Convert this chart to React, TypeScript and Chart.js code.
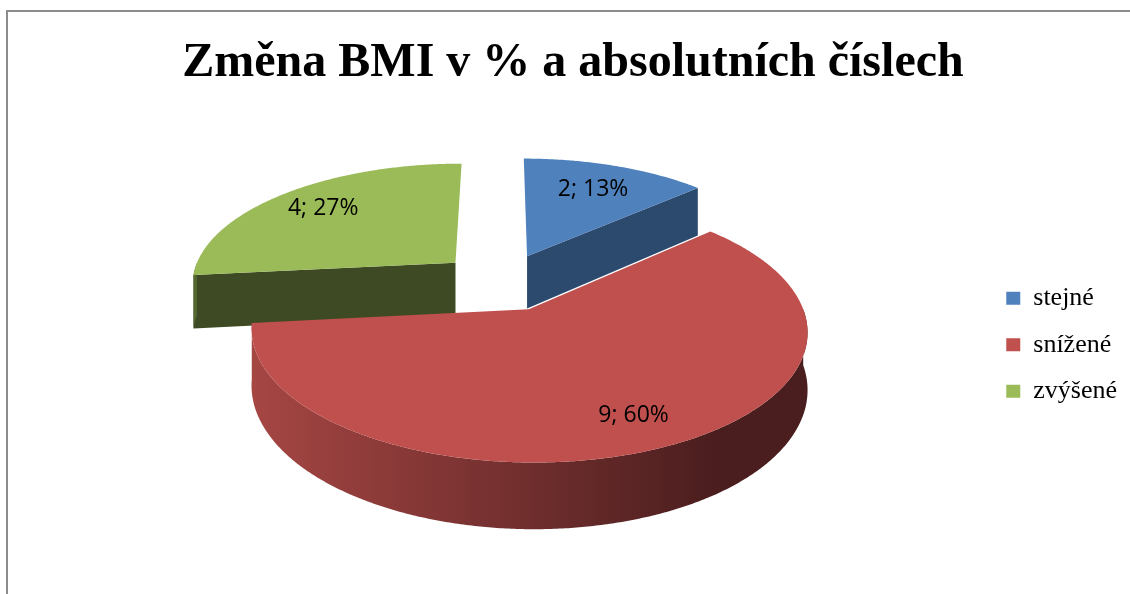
import { useEffect, useRef } from 'react';
import { Chart, registerables } from 'chart.js';

Chart.register(...registerables);

const TITLE = 'Změna BMI v % a absolutních číslech';
const CATEGORIES = ['stejné', 'snížené', 'zvýšené'];
const COUNTS = [2, 9, 4];
const TOP_COLORS = ['#4F81BD', '#C0504D', '#9BBB59'];
const SIDE_LIGHT = ['#3A5F8C', '#A54643', '#55662F'];
const SIDE_DARK = ['#2C4A6E', '#4A1D1E', '#3E4A23'];
const LABEL_RADIUS = [0.72, 0.8, 0.76];

const VIEW = { shiftX: -0.5, shiftY: -63, tilt: 0.453, depth: 0.204, perspective: 0.155 };

const pie3d = {
  id: 'pie3d',
  beforeDatasetDraw(chart: any, args: any) {
    const meta = chart.getDatasetMeta(args.index);
    const arcs = meta.data as any[];
    if (!arcs.length) return false;
    const ctx = chart.ctx as CanvasRenderingContext2D;
    const R = arcs[0].outerRadius;
    const cx = arcs[0].x + VIEW.shiftX;
    const cy = arcs[0].y + VIEW.shiftY;
    const K = R * VIEW.tilt;
    const H = R * VIEW.depth;
    const p = VIEW.perspective;
    const proj = (u: number, v: number, z: number): [number, number] => {
      const s = 1 / (1 + p * v);
      return [cx + u * R * s, cy + (-v * K + z * H) * s];
    };
    const slices = arcs.map((arc: any, i: number) => {
      const start = arc.startAngle + Math.PI / 2;
      const end = arc.endAngle + Math.PI / 2;
      const mid = (start + end) / 2;
      const o = (arc.options.offset || 0) / R;
      return { i, start, end, mid, ou: o * Math.sin(mid), ov: o * Math.cos(mid) };
    });
    const order = [...slices].sort((a, b) => b.ov - a.ov);
    const arcPath = (sl: any, t0: number, t1: number, z: number, first: boolean) => {
      const n = Math.max(2, Math.ceil(Math.abs(t1 - t0) / (Math.PI / 360)));
      for (let k = 0; k <= n; k++) {
        const t = t0 + ((t1 - t0) * k) / n;
        const [x, y] = proj(sl.ou + Math.sin(t), sl.ov + Math.cos(t), z);
        if (k === 0 && first) ctx.moveTo(x, y);
        else ctx.lineTo(x, y);
      }
    };
    ctx.save();
    for (const sl of order) {
      const face = (t: number) => {
        const c0 = proj(sl.ou, sl.ov, 0);
        const c1 = proj(sl.ou, sl.ov, 1);
        const e0 = proj(sl.ou + Math.sin(t), sl.ov + Math.cos(t), 0);
        const e1 = proj(sl.ou + Math.sin(t), sl.ov + Math.cos(t), 1);
        ctx.beginPath();
        ctx.moveTo(c0[0], c0[1]);
        ctx.lineTo(e0[0], e0[1]);
        ctx.lineTo(e1[0], e1[1]);
        ctx.lineTo(c1[0], c1[1]);
        ctx.closePath();
        ctx.fillStyle = SIDE_DARK[sl.i];
        ctx.fill();
      };
      if (Math.sin(sl.start) < -1e-6) face(sl.start);
      if (Math.sin(sl.end) > 1e-6) face(sl.end);
      const lo = Math.max(sl.start, Math.PI / 2);
      const hi = Math.min(sl.end, (3 * Math.PI) / 2);
      if (hi > lo) {
        ctx.beginPath();
        arcPath(sl, lo, hi, 0, true);
        arcPath(sl, hi, lo, 1, false);
        ctx.closePath();
        const xl = proj(sl.ou - 1, sl.ov, 0)[0];
        const xr = proj(sl.ou + 1, sl.ov, 0)[0];
        const g = ctx.createLinearGradient(xl, 0, xr, 0);
        g.addColorStop(0, SIDE_LIGHT[sl.i]);
        g.addColorStop(0.85, SIDE_DARK[sl.i]);
        g.addColorStop(1, SIDE_DARK[sl.i]);
        ctx.fillStyle = g;
        ctx.fill();
      }
      ctx.beginPath();
      const c = proj(sl.ou, sl.ov, 0);
      ctx.moveTo(c[0], c[1]);
      arcPath(sl, sl.start, sl.end, 0, false);
      ctx.closePath();
      ctx.fillStyle = arcs[sl.i].options.backgroundColor;
      ctx.fill();
    }
    const total = COUNTS.reduce((a, b) => a + b, 0);
    ctx.font = '23px "Open Sans"';
    ctx.fillStyle = '#000000';
    ctx.textAlign = 'center';
    ctx.textBaseline = 'middle';
    for (const sl of slices) {
      const r = LABEL_RADIUS[sl.i];
      const [x, y] = proj(sl.ou + r * Math.sin(sl.mid), sl.ov + r * Math.cos(sl.mid), 0);
      const pct = Math.round((COUNTS[sl.i] / total) * 100);
      ctx.fillText(`${COUNTS[sl.i]}; ${pct}%`, x, y);
    }
    ctx.restore();
    return false;
  },
};

export default function App() {
  const ref = useRef<HTMLCanvasElement>(null);
  useEffect(() => {
    const chart = new Chart(ref.current as HTMLCanvasElement, {
      type: 'pie',
      data: {
        labels: CATEGORIES,
        datasets: [
          {
            data: COUNTS,
            backgroundColor: TOP_COLORS,
            borderWidth: 0,
            offset: 64,
            radius: 265,
          } as any,
        ],
      },
      options: {
        responsive: false,
        animation: false,
        events: [],
        layout: { padding: { top: 0, right: 21, bottom: 12, left: 11 } },
        plugins: {
          title: {
            display: true,
            text: TITLE,
            color: '#000000',
            font: { family: '"Liberation Serif"', size: 48, weight: 'bold' },
            padding: { top: 23, bottom: 15 },
          },
          legend: {
            position: 'right',
            fullSize: false,
            labels: {
              color: '#000000',
              font: { family: '"Liberation Serif"', size: 26 },
              boxWidth: 14,
              boxHeight: 13,
              padding: 20.5,
            },
          },
          tooltip: { enabled: false },
        },
      },
      plugins: [pie3d],
    });
    return () => chart.destroy();
  }, []);
  return (
    <div
      style={{
        position: 'fixed',
        left: 0,
        top: 0,
        width: 1130,
        height: 594,
        overflow: 'hidden',
        background: '#ffffff',
      }}
    >
      <div
        style={{
          position: 'absolute',
          left: 6,
          top: 10,
          width: 1160,
          height: 600,
          border: '2px solid #8c8c8c',
        }}
      >
        <canvas
          ref={ref}
          width={1140}
          height={582}
          style={{ position: 'absolute', left: 0, top: 0, width: 1140, height: 582 }}
        />
      </div>
    </div>
  );
}
